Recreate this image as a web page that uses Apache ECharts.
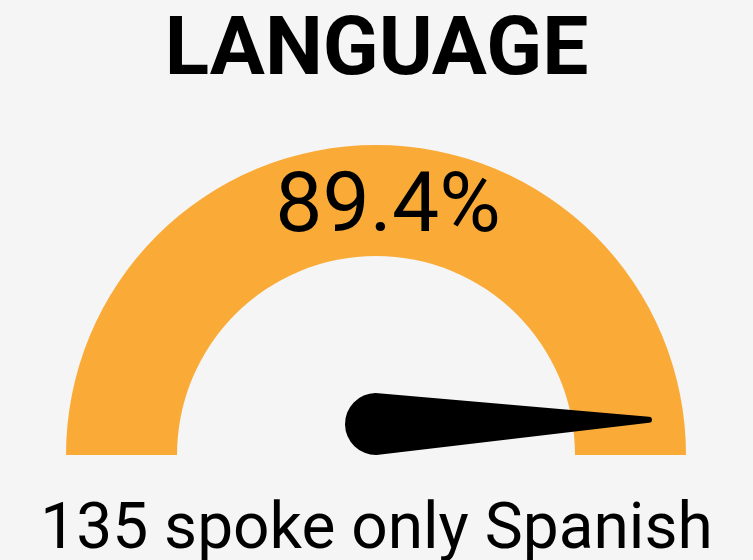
<!DOCTYPE html>
<html>
<head>
<meta charset="utf-8">
<script src="https://cdn.jsdelivr.net/npm/echarts@6/dist/echarts.min.js"></script>
<style>
    html, body { margin: 0; padding: 0; background: #f5f5f5; }
    #chart { width: 753px; height: 560px; }
</style>
</head>
<body>
<div id="chart"></div>
<script>
    // values
    var heading = 'LANGUAGE';
    var sharePct = [89.4];
    var needleValue = [99.5];
    var countLabel = ['135 spoke only Spanish'];

    var orange = '#faab37';

    // teardrop needle, tip at top, round base at bottom
    var needlePath = 'path://M28 3A3 3 0 0 1 34 3L62 276A31 31 0 0 1 0 276Z';

    var myChart = echarts.init(document.getElementById('chart'));
    var option = {
        backgroundColor: '#f5f5f5',
        animation: false,
        title: [{
            text: heading,
            left: 'center',
            top: 12,
            padding: 0,
            textStyle: {fontFamily: 'Roboto', fontSize: 82, fontWeight: 'bold', color: '#000'}
        }, {
            text: countLabel[0],
            left: 'center',
            top: 500,
            padding: 0,
            textStyle: {fontFamily: 'Roboto', fontSize: 64, fontWeight: 'normal', color: '#000'}
        }],
        series: [{
            // the orange band + percent text
            type: 'gauge',
            center: [376, 455],
            radius: 310,
            startAngle: 180,
            endAngle: 0,
            min: 0,
            max: 100,
            axisLine: {lineStyle: {width: 111, color: [[1, orange]]}},
            axisTick: {show: false},
            splitLine: {show: false},
            axisLabel: {show: false},
            pointer: {show: false},
            anchor: {show: false},
            title: {show: false},
            detail: {
                offsetCenter: [12, -245],
                formatter: '{value}%',
                fontFamily: 'Roboto',
                fontSize: 84,
                fontWeight: 'normal',
                color: '#000'
            },
            data: [{value: sharePct[0]}]
        }, {
            // needle only
            type: 'gauge',
            center: [376, 424],
            radius: 310,
            startAngle: 180,
            endAngle: 0,
            min: 0,
            max: 100,
            axisLine: {show: false},
            axisTick: {show: false},
            splitLine: {show: false},
            axisLabel: {show: false},
            progress: {show: false},
            anchor: {show: false},
            title: {show: false},
            detail: {show: false},
            pointer: {
                icon: needlePath,
                length: 307,
                width: 62,
                offsetCenter: [0, 31],
                itemStyle: {color: '#000'}
            },
            data: [{value: needleValue[0]}]
        }]
    };
    myChart.setOption(option);
</script>
</body>
</html>
